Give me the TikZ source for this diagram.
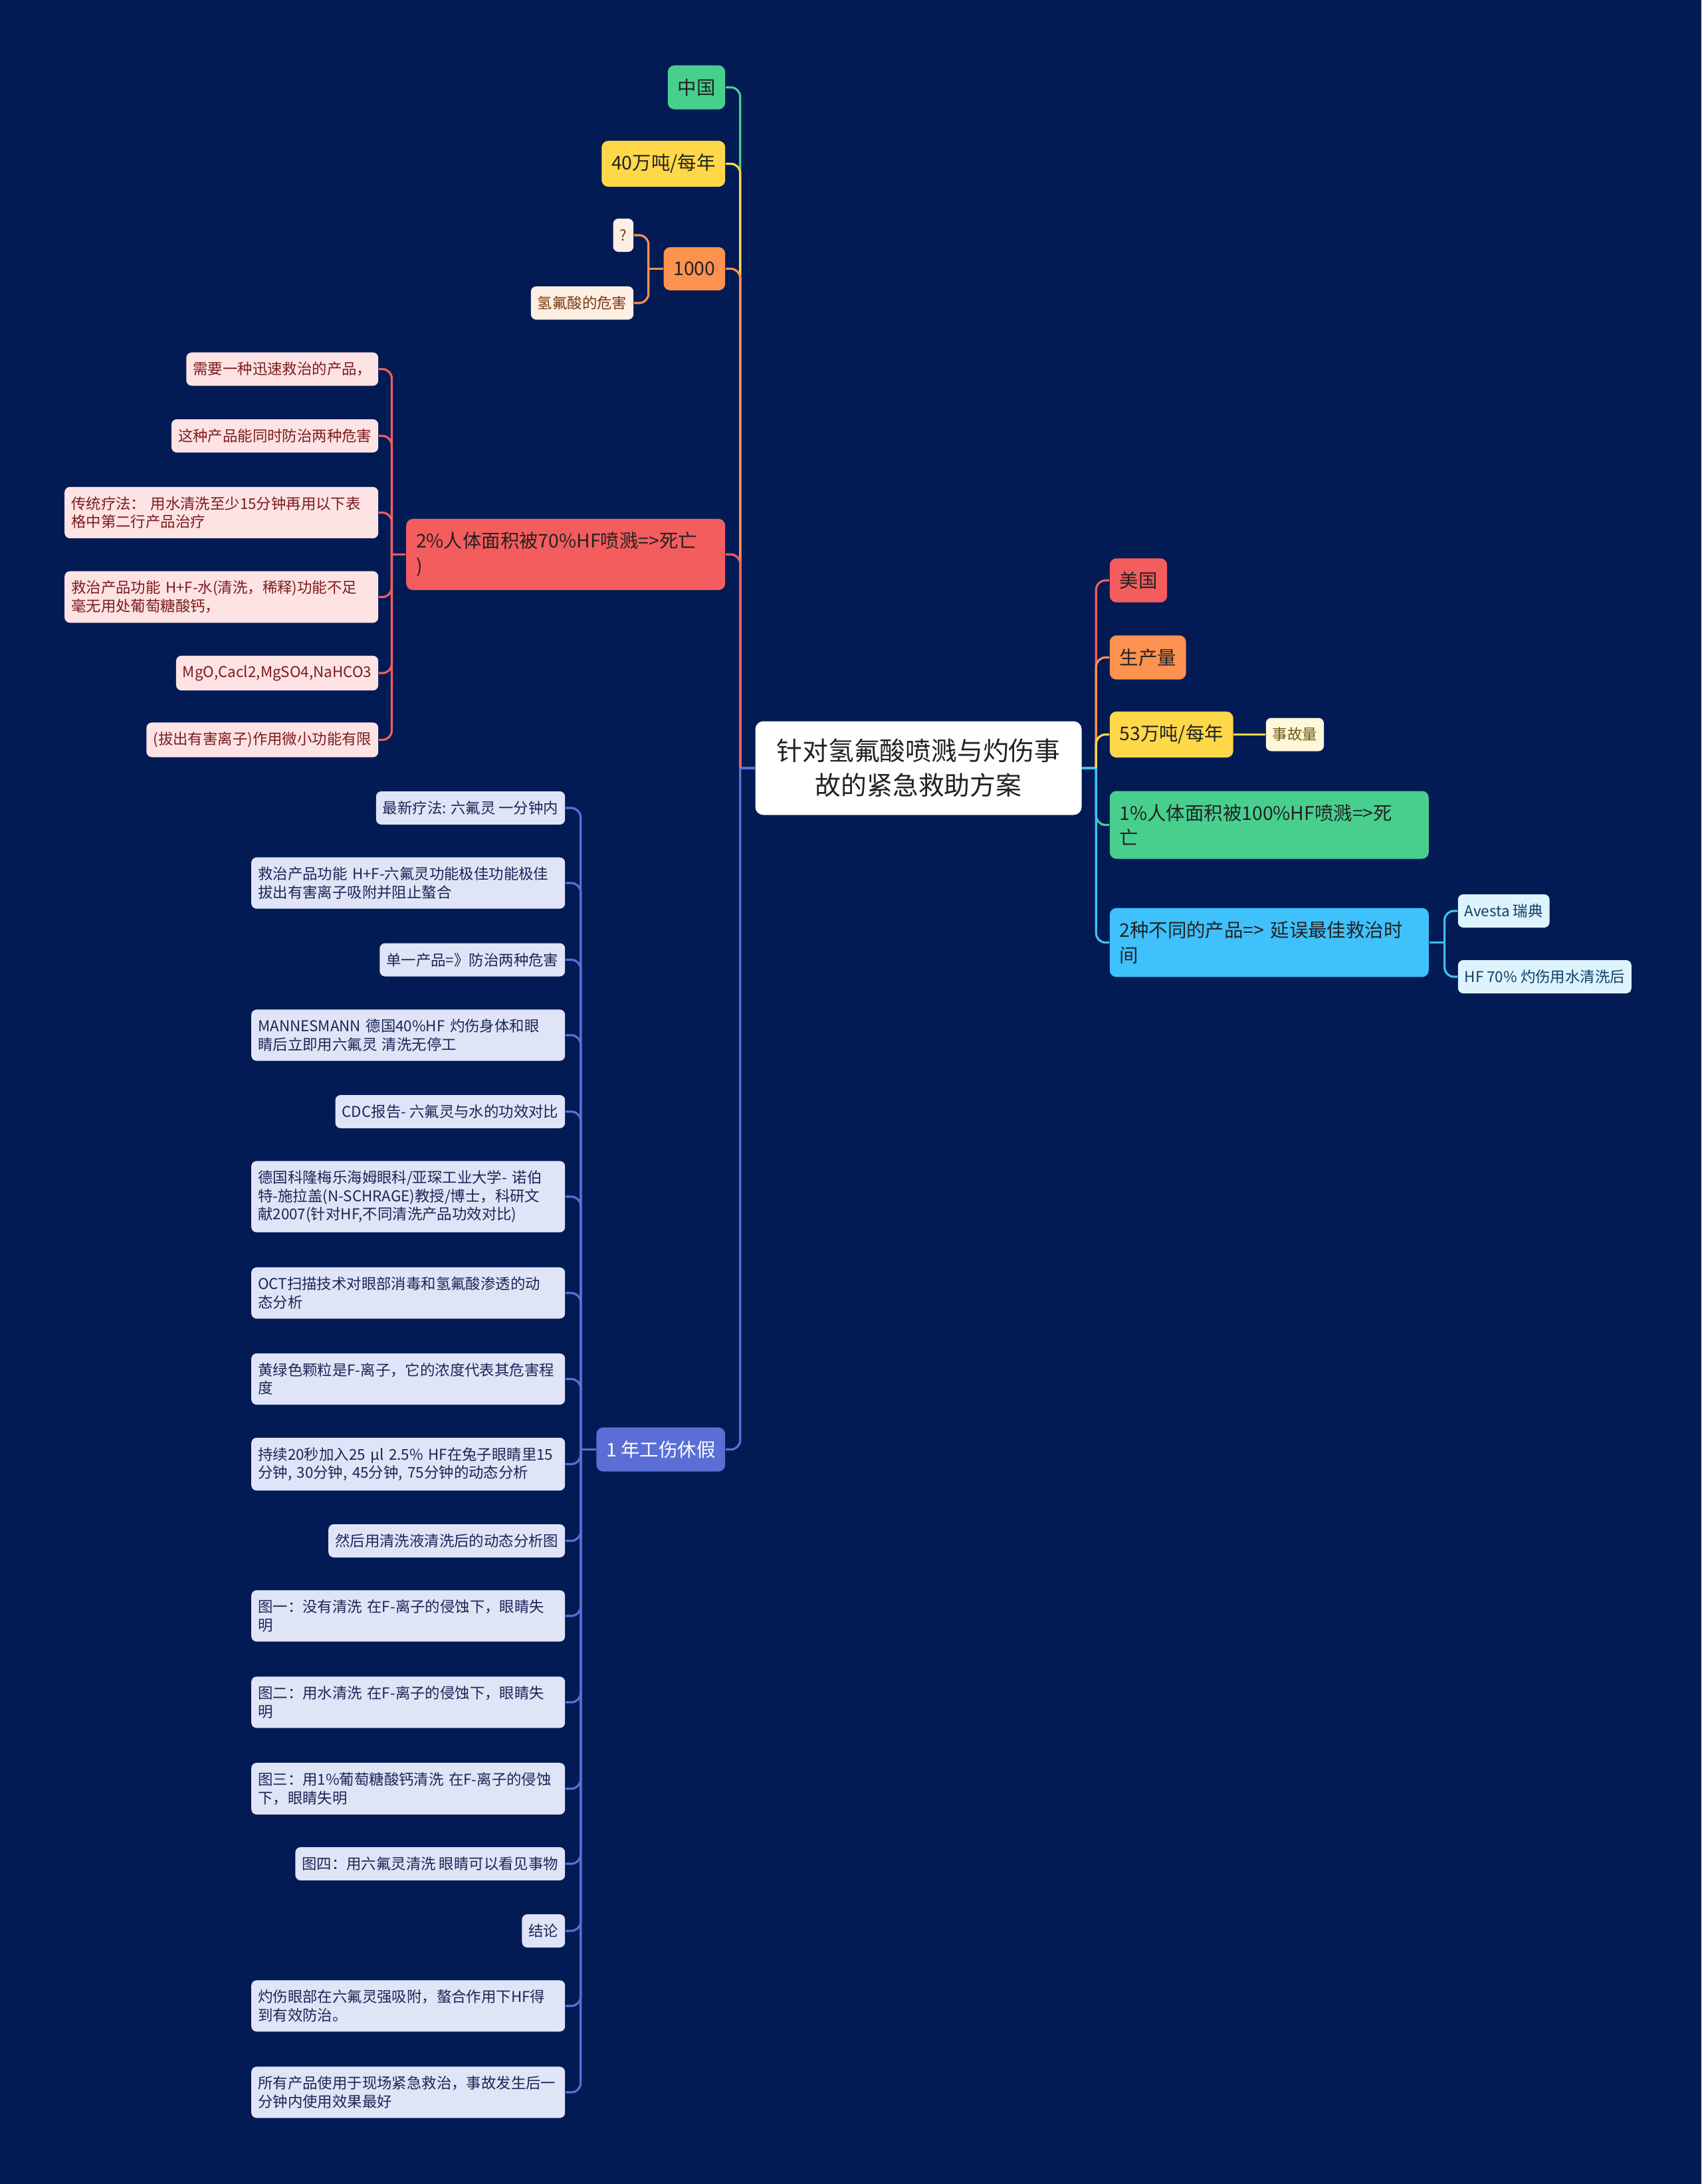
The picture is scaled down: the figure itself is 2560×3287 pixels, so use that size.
\documentclass[tikz,border=0pt]{standalone}
\usepackage{fontspec}
\setmainfont{Noto Sans CJK SC}

\definecolor{bgnavy}{HTML}{021B55}
\definecolor{mgreen}{HTML}{48CF8E}
\definecolor{myellow}{HTML}{FFD84A}
\definecolor{morange}{HTML}{FD9150}
\definecolor{mred}{HTML}{F45D5E}
\definecolor{mblue}{HTML}{5A6ED6}
\definecolor{msky}{HTML}{3FC1FB}
\definecolor{pinkleaf}{HTML}{FDE3E3}
\definecolor{pinktext}{HTML}{7C1B1F}
\definecolor{lavleaf}{HTML}{E0E4F7}
\definecolor{lavtext}{HTML}{1C2656}
\definecolor{peachleaf}{HTML}{FDEFE3}
\definecolor{peachtext}{HTML}{7A3A14}
\definecolor{creamleaf}{HTML}{FFF7DA}
\definecolor{creamtext}{HTML}{6B5A12}
\definecolor{skyleaf}{HTML}{DDF3FD}
\definecolor{skytext}{HTML}{0E3F66}
\definecolor{darktext}{HTML}{222222}

\begin{document}
\begin{tikzpicture}[
        x=0.25pt, y=-0.25pt,
        root/.style={fill=white, text=darktext, rounded corners=3pt, minimum width=122.75pt, minimum height=35.25pt, align=center, font=\fontsize{9.7pt}{13pt}\selectfont},
        topic/.style={text=darktext, rounded corners=2.5pt, inner xsep=3.7pt, inner ysep=5pt, minimum height=16.25pt, align=left, font=\fontsize{7.1pt}{9.4pt}\selectfont},
        leaf/.style={rounded corners=2pt, inner xsep=2.5pt, inner ysep=3.6pt, minimum height=12.5pt, align=left, font=\fontsize{5.6pt}{6.9pt}\selectfont},
        wide/.style={text width=113pt},
        widetopic/.style={text width=112.6pt},
        pinkbox/.style={leaf, fill=pinkleaf, text=pinktext, anchor=east},
        lavbox/.style={leaf, fill=lavleaf, text=lavtext, anchor=east},
        peachbox/.style={leaf, fill=peachleaf, text=peachtext, anchor=east},
        skybox/.style={leaf, fill=skyleaf, text=skytext, anchor=west},
        link/.style={line width=0.8pt, rounded corners=3.5pt}
    ]
        % Background
        \fill[bgnavy] (0,0) rectangle (2560,3287);
        \useasboundingbox (0,0) rectangle (2560,3287);

        % Root
        \node[root] (root) at (1382,1156) {针对氢氟酸喷溅与灼伤事\\故的紧急救助方案};

        % Left topics
        \node[topic, fill=mgreen, anchor=east] (cn) at (1092,131.5) {中国};
        \node[topic, fill=myellow, anchor=east] (y40) at (1092,246.5) {40万吨/每年};
        \node[topic, fill=morange, anchor=east] (k1000) at (1092,404.5) {1000};
        \node[topic, widetopic, fill=mred, anchor=east] (d2) at (1092,834.5) {2\%人体面积被70\%HF喷溅=>死亡\\)};
        \node[topic, fill=mblue, text=white, anchor=east] (yr) at (1092,2181.5) {1 年工伤休假};

        % Children of 1000
        \node[peachbox] (q) at (954,354) {?};
        \node[peachbox] (hz) at (954,456) {氢氟酸的危害};

        % Children of 2%
        \node[pinkbox] (p1) at (570,555.5) {需要一种迅速救治的产品，};
        \node[pinkbox] (p2) at (570,656) {这种产品能同时防治两种危害};
        \node[pinkbox, wide] (p3) at (570,771.5) {传统疗法： 用水清洗至少15分钟再用以下表\\格中第二行产品治疗};
        \node[pinkbox, wide] (p4) at (570,898.5) {救治产品功能 H+F-水(清洗，稀释)功能不足\\毫无用处葡萄糖酸钙，};
        \node[pinkbox] (p5) at (570,1013) {MgO,Cacl2,MgSO4,NaHCO3};
        \node[pinkbox] (p6) at (570,1113.5) {(拔出有害离子)作用微小功能有限};

        % Children of 1 年工伤休假
        \node[lavbox] (c1) at (851,1216) {最新疗法: 六氟灵 一分钟内};
        \node[lavbox, wide] (c2) at (851,1329) {救治产品功能 H+F-六氟灵功能极佳功能极佳\\拔出有害离子吸附并阻止螯合};
        \node[lavbox] (c3) at (851,1444.5) {单一产品=》防治两种危害};
        \node[lavbox, wide] (c4) at (851,1558) {MANNESMANN 德国40\%HF 灼伤身体和眼\\睛后立即用六氟灵 清洗无停工};
        \node[lavbox] (c5) at (851,1673) {CDC报告- 六氟灵与水的功效对比};
        \node[lavbox, wide] (c6) at (851,1801) {德国科隆梅乐海姆眼科/亚琛工业大学- 诺伯\\特-施拉盖(N-SCHRAGE)教授/博士，科研文\\献2007(针对HF,不同清洗产品功效对比)};
        \node[lavbox, wide] (c7) at (851,1946) {OCT扫描技术对眼部消毒和氢氟酸渗透的动\\态分析};
        \node[lavbox, wide] (c8) at (851,2075.5) {黄绿色颗粒是F-离子，它的浓度代表其危害程\\度};
        \node[lavbox, wide] (c9) at (851,2203.5) {持续20秒加入25 µl 2.5\% HF在兔子眼睛里15\\分钟, 30分钟, 45分钟, 75分钟的动态分析};
        \node[lavbox] (c10) at (851,2319) {然后用清洗液清洗后的动态分析图};
        \node[lavbox, wide] (c11) at (851,2432) {图一：没有清洗 在F-离子的侵蚀下，眼睛失\\明};
        \node[lavbox, wide] (c12) at (851,2562) {图二：用水清洗 在F-离子的侵蚀下，眼睛失\\明};
        \node[lavbox, wide] (c13) at (851,2692) {图三：用1\%葡萄糖酸钙清洗 在F-离子的侵蚀\\下，眼睛失明};
        \node[lavbox] (c14) at (851,2805) {图四：用六氟灵清洗 眼睛可以看见事物};
        \node[lavbox] (c15) at (851,2906) {结论};
        \node[lavbox, wide] (c16) at (851,3019) {灼伤眼部在六氟灵强吸附，螯合作用下HF得\\到有效防治。};
        \node[lavbox, wide] (c17) at (851,3149) {所有产品使用于现场紧急救治，事故发生后一\\分钟内使用效果最好};

        % Right topics
        \node[topic, fill=mred, anchor=west] (us) at (1669,873.5) {美国};
        \node[topic, fill=morange, anchor=west] (prod) at (1669,989.5) {生产量};
        \node[topic, fill=myellow, anchor=west] (y53) at (1669,1105.5) {53万吨/每年};
        \node[topic, widetopic, fill=mgreen, anchor=west] (d1) at (1669,1241.5) {1\%人体面积被100\%HF喷溅=>死\\亡};
        \node[topic, widetopic, fill=msky, anchor=west] (two) at (1669,1418.5) {2种不同的产品=> 延误最佳救治时\\间};

        % Right leaves
        \node[leaf, fill=creamleaf, text=creamtext, anchor=west] (acc) at (1904,1105.5) {事故量};
        \node[skybox] (av) at (2193,1371) {Avesta 瑞典};
        \node[skybox] (hf) at (2193,1470) {HF 70\% 灼伤用水清洗后};

        % Connections - left side
        \draw[link, mblue] (root.west) -- ++(-22,0) coordinate (lj);
        \draw[link, mgreen] (lj) |- (cn.east);
        \draw[link, myellow] (lj) |- (y40.east);
        \draw[link, morange] (lj) |- (k1000.east);
        \draw[link, mred] (lj) |- (d2.east);
        \draw[link, mblue] (lj) |- (yr.east);

        \draw[link, morange] (k1000.west) -- ++(-22,0) coordinate (kj);
        \draw[link, morange] (kj) |- (q.east);
        \draw[link, morange] (kj) |- (hz.east);

        \draw[link, mred] (d2.west) -- ++(-21,0) coordinate (dj);
        \foreach \i in {1,...,6} {
            \draw[link, mred] (dj) |- (p\i.east);
        }

        \draw[link, mblue] (yr.west) -- ++(-23,0) coordinate (yj);
        \foreach \i in {1,...,17} {
            \draw[link, mblue] (yj) |- (c\i.east);
        }

        % Connections - right side
        \draw[link, msky] (root.east) -- ++(21,0) coordinate (rj);
        \draw[link, mred] (rj) |- (us.west);
        \draw[link, morange] (rj) |- (prod.west);
        \draw[link, myellow] (rj) |- (y53.west);
        \draw[link, mgreen] (rj) |- (d1.west);
        \draw[link, msky] (rj) |- (two.west);

        \draw[link, myellow] (y53.east) -- (acc.west);

        \draw[link, msky] (two.east) -- ++(23,0) coordinate (tj);
        \draw[link, msky] (tj) |- (av.west);
        \draw[link, msky] (tj) |- (hf.west);
    \end{tikzpicture}
\end{document}
